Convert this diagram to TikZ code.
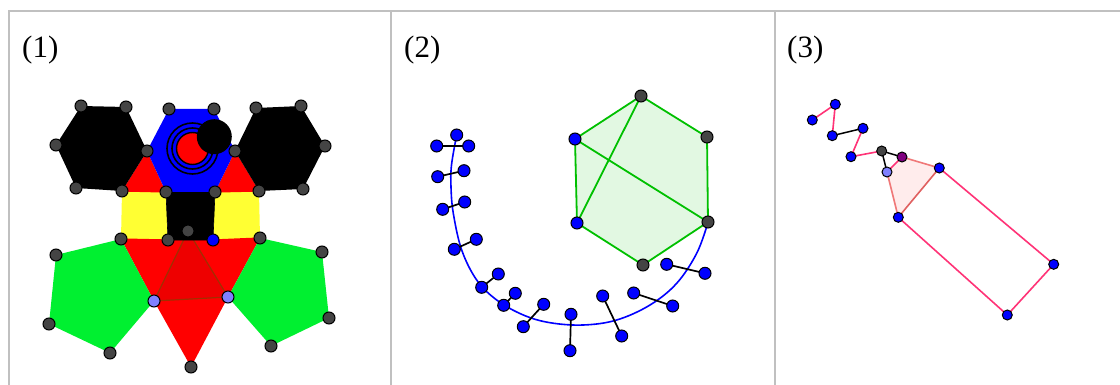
\documentclass[tikz,border=0pt]{standalone}
\usepackage{fontspec}
\setmainfont{Liberation Serif}
\definecolor{dotgray}{HTML}{444444}
\definecolor{pgreen}{HTML}{00F030}
\definecolor{pyellow}{HTML}{FFFF33}
\definecolor{hexline}{HTML}{00C000}
\definecolor{hexfill}{HTML}{E2F8E2}
\definecolor{pinkline}{HTML}{FF3377}
\definecolor{salmonline}{HTML}{F07878}
\definecolor{salmondark}{HTML}{E06060}
\definecolor{palepink}{HTML}{FFECEC}
\definecolor{lblue}{HTML}{8080FF}
\definecolor{purp}{HTML}{800080}
\definecolor{brownline}{HTML}{A03000}
\definecolor{borderg}{HTML}{C0C0C0}
\definecolor{darkred}{HTML}{EE0000}
\begin{document}
\begin{tikzpicture}[x=1pt,y=-1pt,
  dotg/.style={fill=dotgray,draw=black,line width=1pt},
  dotb/.style={fill=blue,draw=black,line width=1pt},
  dotl/.style={fill=lblue,draw=black,line width=1pt},
  dotp/.style={fill=purp,draw=black,line width=1pt},
  panellabel/.style={inner sep=0pt,anchor=base west,font=\fontsize{31}{36}\selectfont},
  border/.style={draw=borderg,line width=2pt},
  seg/.style={draw=black,line width=1.7pt},
  pinkseg/.style={draw=pinkline,line width=1.6pt}]
\useasboundingbox (0,0) rectangle (1120,385);
\fill[white] (0,0) rectangle (1120,385);
% borders
\coordinate (bTL) at (8,11);
\coordinate (bTR) at (1120,11);
\coordinate (bBL) at (9,385);
\coordinate (bD1t) at (390.5,11);
\coordinate (bD1b) at (390.5,385);
\coordinate (bD2t) at (774.5,11);
\coordinate (bD2b) at (774.5,385);
\draw[border] (bTL) -- (bTR);
\draw[border] (9,11) -- (bBL);
\draw[border] (bD1t) -- (bD1b);
\draw[border] (bD2t) -- (bD2b);
% labels
\node[panellabel] (lab1) at (22,58) {(1)};
\node[panellabel] (lab2) at (404,58) {(2)};
\node[panellabel] (lab3) at (787,58) {(3)};

% ================= Panel 1 =================
\coordinate (L1) at (81,106);
\coordinate (L2) at (126,107);
\coordinate (L3) at (147,151);
\coordinate (L4) at (122,191);
\coordinate (L5) at (76,188);
\coordinate (L6) at (56,145);
\coordinate (B1) at (169,109);
\coordinate (B2) at (214,109);
\coordinate (B4) at (215,192);
\coordinate (B5) at (166,192);
\coordinate (R1) at (256,108);
\coordinate (R2) at (301,106);
\coordinate (R3) at (325,146);
\coordinate (R4) at (303,189);
\coordinate (R5) at (259,191);
\coordinate (R6) at (235,151);
\coordinate (S3) at (213,240);
\coordinate (S4) at (168,240);
\coordinate (Y1) at (121,239);
\coordinate (Y2) at (260,238);
\coordinate (T) at (188,231);
\coordinate (P1) at (154,301);
\coordinate (P2) at (228,297);
\coordinate (Bot) at (191,367);
\coordinate (G1) at (56,255);
\coordinate (G2) at (49,324);
\coordinate (G3) at (110,353);
\coordinate (H1) at (322,252);
\coordinate (H2) at (329,318);
\coordinate (H3) at (271,346);
\coordinate (CC) at (192.5,148.5);
\coordinate (BC) at (214.3,136.7);

% red regions
\fill[red] (L3) -- (L4) -- (B5) -- cycle;
\fill[red] (R6) -- (R5) -- (B4) -- cycle;
\fill[red] (Y1) -- (Y2) -- (P2) -- (Bot) -- (P1) -- cycle;
% yellow
\fill[pyellow] (L4) -- (B5) -- (S4) -- (Y1) -- cycle;
\fill[pyellow] (B4) -- (R5) -- (Y2) -- (S3) -- cycle;
\draw[red,line width=1.2pt] (L4) -- (B5) (Y1) -- (S4) (B4) -- (R5) (S3) -- (Y2);
% darker triangle
\fill[darkred] (T) -- (P1) -- (P2) -- cycle;
\draw[brownline,line width=1.2pt] (T) -- (P1) -- (P2) -- cycle;
% black square
\filldraw[black,line width=0.6pt] (B5) -- (B4) -- (S3) -- (S4) -- cycle;
% green pentagons
\fill[pgreen] (Y1) -- (G1) -- (G2) -- (G3) -- (P1) -- cycle;
\fill[pgreen] (Y2) -- (H1) -- (H2) -- (H3) -- (P2) -- cycle;
% blue hexagon
\fill[blue] (B1) -- (B2) -- (R6) -- (B4) -- (B5) -- (L3) -- cycle;
% black hexagons
\fill[black] (L1) -- (L2) -- (L3) -- (L4) -- (L5) -- (L6) -- cycle;
\fill[black] (R1) -- (R2) -- (R3) -- (R4) -- (R5) -- (R6) -- cycle;
% circles
\draw[black,line width=1.6pt] (CC) circle (25.5pt);
\draw[black,line width=1.6pt] (CC) circle (20.5pt);
\filldraw[fill=red,draw=black,line width=1.4pt] (CC) circle (16pt);
\fill[black] (BC) circle (17.5pt);
% dots
\foreach \p in {L1,L2,L3,L4,L5,L6,B1,B2,R1,R2,R3,R4,R5,R6,B4,B5,Y1,S4,Y2,T,G1,G2,G3,H1,H2,H3,Bot}
  \filldraw[dotg] (\p) circle (6pt);
\filldraw[dotb] (S3) circle (6pt);
\filldraw[dotl] (P1) circle (6pt);
\filldraw[dotl] (P2) circle (6pt);

% ================= Panel 2 =================
\coordinate (X1) at (641,96);
\coordinate (X2) at (707,137);
\coordinate (X3) at (708,222);
\coordinate (X4) at (643,265);
\coordinate (X5) at (577,223);
\coordinate (X6) at (575,139);
\filldraw[fill=hexfill,draw=hexline,line width=1.8pt] (X1) -- (X2) -- (X3) -- (X4) -- (X5) -- (X6) -- cycle;
\draw[hexline,line width=1.8pt] (X1) -- (X5) (X6) -- (X3);
% arc
\draw[blue,line width=1.6pt] plot[smooth,tension=0.6] coordinates {
 (456.7,135) (451.5,165) (451,187) (453.3,213.3) (461.7,250) (476.7,280) (496.7,300)
 (523.3,315) (550,322.7) (583.3,325) (616.7,320) (650,305) (676.7,283.3) (696.7,253.3) (707.5,224)};
\coordinate (A0) at (456.7,135);
\coordinate (A1) at (436.7,146);
\coordinate (A2) at (468.7,146);
\coordinate (C1) at (437.7,176.7);
\coordinate (C2) at (464,170.7);
\coordinate (D1) at (442.7,209.3);
\coordinate (D2) at (464.7,202);
\coordinate (E1) at (454.3,249.3);
\coordinate (E2) at (476.3,239.3);
\coordinate (F1) at (481.7,287.3);
\coordinate (F2) at (498.3,274);
\coordinate (K1) at (503.7,305.3);
\coordinate (K2) at (515.3,293.3);
\coordinate (M1) at (523.3,326.7);
\coordinate (M2) at (543.7,304.3);
\coordinate (N1) at (571,314.3);
\coordinate (N2) at (570,350.7);
\coordinate (O1) at (602.7,296);
\coordinate (O2) at (621.7,336);
\coordinate (Q1) at (633.7,293);
\coordinate (Q2) at (672.7,306);
\coordinate (U1) at (666.7,264.3);
\coordinate (U2) at (705,273.3);
\draw[seg] (A1) -- (A2);
\draw[seg] (C1) -- (C2);
\draw[seg] (D1) -- (D2);
\draw[seg] (E1) -- (E2);
\draw[seg] (F1) -- (F2);
\draw[seg] (K1) -- (K2);
\draw[seg] (M1) -- (M2);
\draw[seg] (N1) -- (N2);
\draw[seg] (O1) -- (O2);
\draw[seg] (Q1) -- (Q2);
\draw[seg] (U1) -- (U2);
\foreach \p in {A0,A1,A2,C1,C2,D1,D2,E1,E2,F1,F2,K1,K2,M1,M2,N1,N2,O1,O2,Q1,Q2,U1,U2,X5,X6}
  \filldraw[dotb] (\p) circle (6pt);
\foreach \p in {X1,X2,X3,X4}
  \filldraw[dotg] (\p) circle (6pt);

% ================= Panel 3 =================
\coordinate (zA) at (812.3,120);
\coordinate (zB) at (835.3,104.3);
\coordinate (zC) at (832.3,135.7);
\coordinate (zD) at (863,128.3);
\coordinate (zE) at (851,156.7);
\coordinate (zF) at (881.7,151);
\coordinate (zG) at (902,157);
\coordinate (zH) at (887,172);
\coordinate (zI) at (939.3,168);
\coordinate (zJ) at (898.3,217.3);
\coordinate (zK) at (1053.7,264.3);
\coordinate (zL) at (1007.3,315);
\fill[palepink] (zH) -- (zG) -- (zI) -- (zJ) -- cycle;
\draw[salmonline,line width=1.6pt] (zG) -- (zI);
\draw[salmonline,line width=1.6pt] (zJ) -- (zH);
\draw[salmondark,line width=1.6pt] (zI) -- (zJ);
\draw[pinkseg] (zH) -- (zG);
\draw[pinkseg] (zI) -- (zK) -- (zL) -- (zJ);
\draw[pinkseg] (zA) -- (zB) -- (zC);
\draw[seg,line width=1.5pt] (zC) -- (zD);
\draw[pinkseg] (zD) -- (zE) -- (zF);
\draw[seg,line width=1.5pt] (zF) -- (zG);
\draw[seg,line width=1.5pt] (zF) -- (zH);
\foreach \p in {zA,zB,zC,zD,zE,zI,zJ,zK,zL}
  \filldraw[dotb] (\p) circle (5pt);
\filldraw[dotg] (zF) circle (5pt);
\filldraw[dotp] (zG) circle (5pt);
\filldraw[dotl] (zH) circle (5pt);
\end{tikzpicture}
\end{document}
